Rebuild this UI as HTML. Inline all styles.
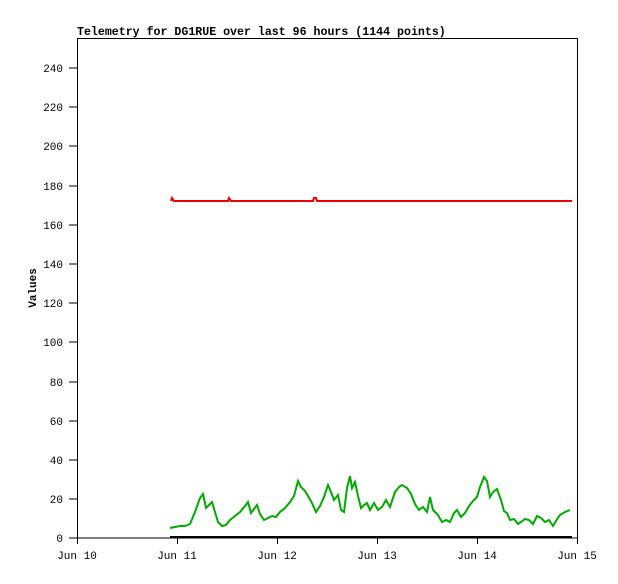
<!DOCTYPE html>
<html><head><style>body{margin:0;background:#fff}</style></head><body>
<svg width="618" height="579" xmlns="http://www.w3.org/2000/svg" font-family="Liberation Mono, monospace" font-size="11">
<rect width="618" height="579" fill="#fff"/>
<text x="77" y="35" font-weight="bold" font-size="11.6">Telemetry for DG1RUE over last 96 hours (1144 points)</text>
<rect x="77.5" y="38.5" width="500" height="499.5" fill="none" stroke="#000"/>
<g stroke="#000">
<line x1="69" y1="538" x2="77" y2="538"/><line x1="69" y1="499" x2="77" y2="499"/><line x1="69" y1="460" x2="77" y2="460"/><line x1="69" y1="421" x2="77" y2="421"/><line x1="69" y1="382" x2="77" y2="382"/><line x1="69" y1="342" x2="77" y2="342"/><line x1="69" y1="303" x2="77" y2="303"/><line x1="69" y1="264" x2="77" y2="264"/><line x1="69" y1="225" x2="77" y2="225"/><line x1="69" y1="186" x2="77" y2="186"/><line x1="69" y1="146" x2="77" y2="146"/><line x1="69" y1="107" x2="77" y2="107"/><line x1="69" y1="68" x2="77" y2="68"/>
<line x1="77.5" y1="538" x2="77.5" y2="544"/><line x1="177.5" y1="538" x2="177.5" y2="544"/><line x1="277.5" y1="538" x2="277.5" y2="544"/><line x1="377.5" y1="538" x2="377.5" y2="544"/><line x1="477.5" y1="538" x2="477.5" y2="544"/><line x1="577.5" y1="538" x2="577.5" y2="544"/>
</g>
<g text-anchor="end">
<text x="63" y="542">0</text><text x="63" y="503">20</text><text x="63" y="464">40</text><text x="63" y="425">60</text><text x="63" y="386">80</text><text x="63" y="346">100</text><text x="63" y="307">120</text><text x="63" y="268">140</text><text x="63" y="229">160</text><text x="63" y="190">180</text><text x="63" y="150">200</text><text x="63" y="111">220</text><text x="63" y="72">240</text>
</g>
<g text-anchor="middle">
<text x="77" y="559">Jun 10</text><text x="177" y="559">Jun 11</text><text x="277" y="559">Jun 12</text><text x="377" y="559">Jun 13</text><text x="477" y="559">Jun 14</text><text x="577" y="559">Jun 15</text>
</g>
<text transform="translate(36,288) rotate(-90)" text-anchor="middle" font-weight="bold">Values</text>
<line x1="170" y1="537" x2="572" y2="537" stroke="#000" stroke-width="2"/>
<polyline fill="none" stroke="#e00" stroke-width="2" points="171,201 172,198 174,201 228,201 229,198 231,201 313,201 314,198 316,198 317,201 572,201"/>
<polyline fill="none" stroke="#0a0" stroke-width="2" points="170,528 175,527 180,526 185,526 190,524 195,512 200,498 203,494 206,508 209,505 212,502 215,512 218,522 222,526 226,525 230,520 235,516 240,512 245,506 248,502 251,513 254,509 257,505 260,514 264,520 268,518 272,516 276,517 280,512 285,508 290,502 294,496 298,481 301,487 305,491 308,496 312,503 316,512 320,506 324,497 328,485 331,492 334,500 338,495 341,510 344,512 347,488 350,476 352,488 355,482 358,496 361,508 364,505 367,503 370,510 374,503 378,510 382,507 386,500 390,507 395,492 399,487 402,485 407,488 411,494 415,504 419,510 423,507 427,512 430,497 433,510 438,515 442,522 446,520 450,522 454,513 457,510 461,517 465,513 469,506 473,501 477,497 480,487 484,477 487,481 490,497 493,492 497,489 501,500 504,511 507,513 510,520 514,519 518,524 521,522 525,519 529,520 533,524 537,516 541,518 545,522 549,520 553,526 556,521 560,515 565,512 570,510"/>
</svg>
</body></html>
